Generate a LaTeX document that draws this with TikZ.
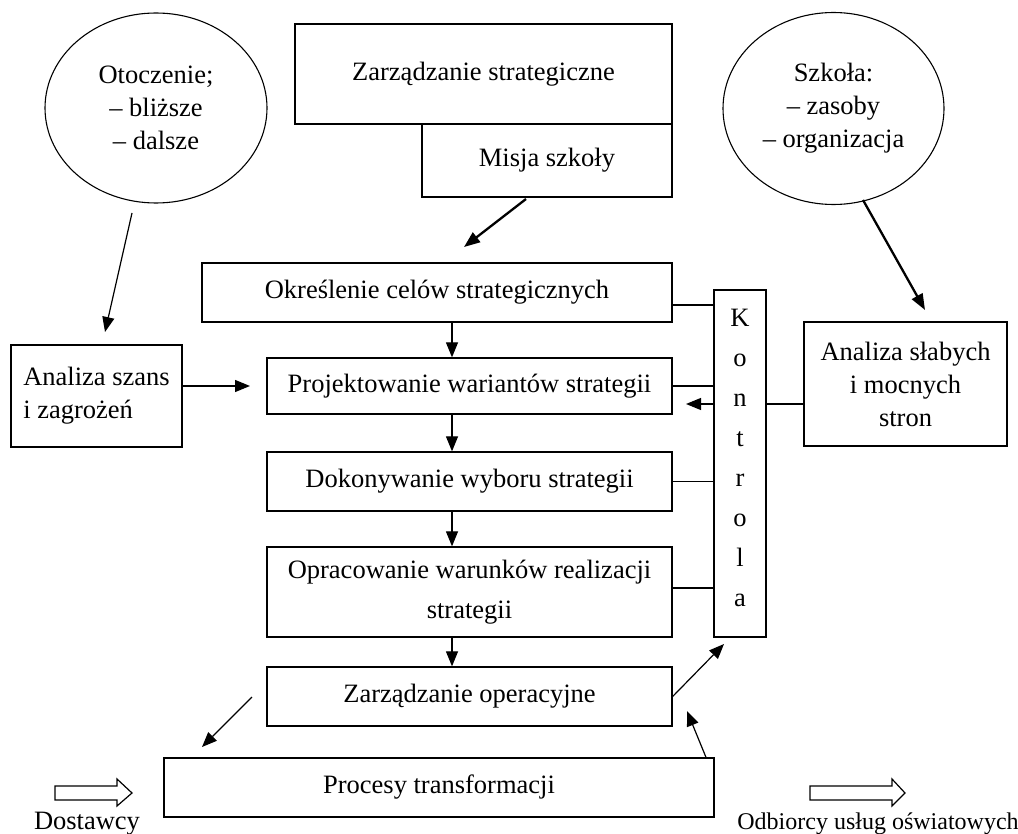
\documentclass[tikz,border=0pt]{standalone}
\usepackage{fontspec}
\setmainfont{Liberation Serif}
\usetikzlibrary{arrows.meta,shapes.geometric}
\begin{document}
\begin{tikzpicture}[x=1pt,y=-1pt,
 every node/.style={font=\fontsize{26.5}{33}\selectfont, inner sep=0pt},
 box/.style={draw, line width=1.3pt, rectangle, align=center},
 ell/.style={draw, line width=1.1pt, ellipse, align=center},
 arr/.style={-{Triangle[length=15pt,width=12pt]}, line width=1.2pt},
 thickarr/.style={-{Triangle[length=16pt,width=12pt]}, line width=2.3pt},
 ln/.style={line width=1.2pt},
 hollow/.style={draw, line width=1.2pt}]
\useasboundingbox (0,0) rectangle (1018,834);

% ellipses
\node[ell, minimum width=222pt, minimum height=190pt] (ellL) at (156,108) {Otoczenie;\\– bliższe\\– dalsze};
\node[ell, minimum width=221pt, minimum height=192pt] (ellR) at (833.5,108.5) {Szkoła:\\– zasoby\\– organizacja};

% boxes
\node[box, minimum width=377pt, minimum height=100pt] (zs) at (483.5,74) {Zarządzanie strategiczne};
\node[box, minimum width=250pt, minimum height=73pt] (misja) at (547,160.5) {Misja szkoły};
\node[box, minimum width=470pt, minimum height=59pt] (okr) at (437,292.5) {Określenie celów strategicznych};
\node[box, minimum width=405pt, minimum height=56pt] (proj) at (469.5,386) {Projektowanie wariantów strategii};
\node[box, minimum width=405pt, minimum height=59pt] (dok) at (469.5,481.5) {Dokonywanie wyboru strategii};
\node[box, minimum width=405pt, minimum height=90pt, font=\fontsize{26.5}{40}\selectfont] (opr) at (469.5,592) {Opracowanie warunków realizacji\\strategii};
\node[box, minimum width=405pt, minimum height=59pt] (zop) at (469.5,696.5) {Zarządzanie operacyjne};
\node[box, minimum width=550pt, minimum height=59pt] (proc) at (439,787.5) {Procesy transformacji};
\node[box, minimum width=52pt, minimum height=347pt] (kont) at (740,463.5) {};
\node[font=\fontsize{26.5}{40}\selectfont, align=center] (kontt) at (740,458) {K\\o\\n\\t\\r\\o\\l\\a};
\node[box, minimum width=171pt, minimum height=102pt, align=left] (aszans) at (96.5,396) {Analiza szans\\i zagrożeń};
\node[box, minimum width=203pt, minimum height=124pt] (aslab) at (905.5,384) {Analiza słabych\\i mocnych\\stron};

% bottom labels
\node[anchor=base] (dost) at (87,829) {Dostawcy};
\node[anchor=base, font=\fontsize{24}{30}\selectfont] (odb) at (878,829) {Odbiorcy usług oświatowych};

% helper coordinates
\coordinate (c1s) at (132,213); \coordinate (c1e) at (105,332);
\coordinate (c2s) at (526,199); \coordinate (c2e) at (464,247);
\coordinate (c3s) at (863,200); \coordinate (c3e) at (925,310);
\coordinate (c4e) at (250,386);
\coordinate (c5e) at (686,404);
\coordinate (c6e) at (724,644);
\coordinate (c7e) at (687,711);
\coordinate (c8s) at (252,697); \coordinate (c8e) at (202,747);
\coordinate (xv) at (452,0);
\coordinate (x706) at (706,0);
\coordinate (y305) at (0,305);
\coordinate (y404) at (0,404);
\coordinate (y588) at (0,588);

% connectors
\draw[arr] (c1s) -- (c1e);
\draw[thickarr] (c2s) -- (c2e);
\draw[thickarr] (c3s) -- (c3e);
\draw[arr] (aszans.east |- proj.center) -- (c4e);
\draw[arr] (okr.south -| xv) -- (proj.north -| xv);
\draw[arr] (proj.south -| xv) -- (dok.north -| xv);
\draw[arr] (dok.south -| xv) -- (opr.north -| xv);
\draw[arr] (opr.south -| xv) -- (zop.north -| xv);
\draw[ln] (okr.east |- y305) -- (kont.west |- y305);
\draw[ln] (proj.east) -- (proj.east -| kont.west);
\draw[arr] (kont.west |- y404) -- (c5e);
\draw[ln] (dok.east) -- (dok.east -| kont.west);
\draw[ln] (opr.east |- y588) -- (kont.west |- y588);
\draw[ln] (kont.east |- y404) -- (aslab.west |- y404);
\draw[arr] (zop.east) -- (c6e);
\draw[arr] (proc.north -| x706) -- (c7e);
\draw[arr] (c8s) -- (c8e);

% hollow arrows
\draw[hollow] (55,786) -- (117,786) -- (117,779) -- (132,793) -- (117,806) -- (117,800) -- (55,800) -- cycle;
\draw[hollow] (810,786) -- (892,786) -- (892,779) -- (905,793) -- (892,806) -- (892,800) -- (810,800) -- cycle;
\end{tikzpicture}
\end{document}
